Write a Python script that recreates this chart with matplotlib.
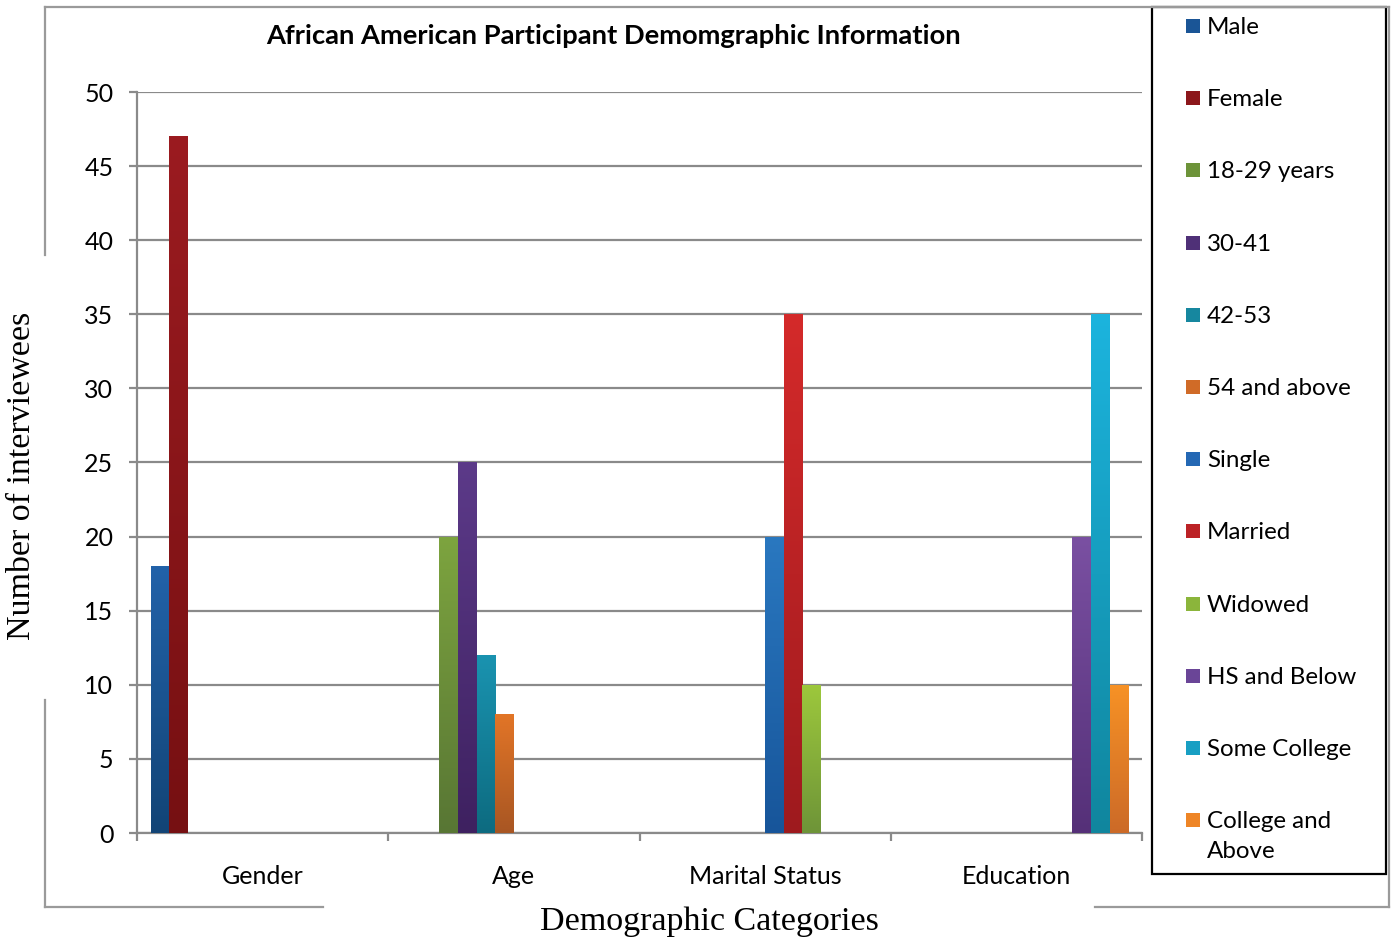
import matplotlib
matplotlib.use('Agg')
import matplotlib.pyplot as plt
from matplotlib.patches import Rectangle
from matplotlib.lines import Line2D
from matplotlib.colors import LinearSegmentedColormap
import numpy as np

# chart data
categories = ['Gender', 'Age', 'Marital Status', 'Education']
series_names = ['Male', 'Female', '18-29 years', '30-41', '42-53', '54 and above',
                'Single', 'Married', 'Widowed', 'HS and Below', 'Some College',
                'College and\nAbove']
# one value per category for each series (0 = not shown)
male = [18, 0, 0, 0]
female = [47, 0, 0, 0]
age_18_29 = [0, 20, 0, 0]
age_30_41 = [0, 25, 0, 0]
age_42_53 = [0, 12, 0, 0]
age_54_up = [0, 8, 0, 0]
single = [0, 0, 20, 0]
married = [0, 0, 35, 0]
widowed = [0, 0, 10, 0]
hs_below = [0, 0, 0, 20]
some_college = [0, 0, 0, 35]
college_above = [0, 0, 0, 10]
series_values = [male, female, age_18_29, age_30_41, age_42_53, age_54_up,
                 single, married, widowed, hs_below, some_college, college_above]
colors = ['#1A5596', '#8C171B', '#6D9339', '#4F3077', '#16879F', '#D06B27',
          '#2468B4', '#BC2226', '#8BB53B', '#6A4597', '#189FC3', '#EE8526']
top_colors = ['#2262A9', '#9B1B20', '#7DA43F', '#5C3A89', '#1A93B0', '#E27527',
              '#2A78C0', '#D42A2A', '#9DC83C', '#7A50A2', '#1CB4DE', '#F79225']
bottom_colors = ['#124476', '#761012', '#587634', '#3E2160', '#0D6B80', '#A85623',
                 '#17559A', '#9E1A1E', '#6E9438', '#553078', '#10869E', '#CC6A28']
y_ticks = [0, 5, 10, 15, 20, 25, 30, 35, 40, 45, 50]

W, H = 1391, 938
fig = plt.figure(figsize=(W / 100, H / 100), dpi=100)
fig.patch.set_facecolor('white')

def fx(px):
    return px / W

def fy(py):
    return 1 - py / H

ax = fig.add_axes([fx(137), fy(833), fx(1142) - fx(137), fy(92) - fy(833)])

grid_col = '#8a8a8a'
n = len(series_names)
width = 0.892 / n
x = np.arange(len(categories))
grad = np.linspace(0, 1, 256).reshape(-1, 1)
for j, vals in enumerate(series_values):
    pos = x + 0.5 + (j - (n - 1) / 2) * width
    bars = ax.bar(pos, vals, width=width, color=colors[j], linewidth=0, zorder=3)
    cmap = LinearSegmentedColormap.from_list('g%d' % j, [bottom_colors[j], top_colors[j]])
    for rect in bars:
        h = rect.get_height()
        if h <= 0:
            continue
        x0 = rect.get_x()
        im = ax.imshow(grad, extent=[x0, x0 + rect.get_width(), 0, h], origin='lower',
                       cmap=cmap, aspect='auto', zorder=3.5, interpolation='bilinear')
        im.set_clip_path(rect)

ax.set_xlim(0, len(categories))
ax.set_ylim(0, 50)
ax.set_aspect('auto')
ax.set_yticks(y_ticks)
ax.yaxis.grid(True, color=grid_col, linewidth=1.6, zorder=0)
ax.set_axisbelow(True)
ax.set_xticks(np.arange(len(categories) + 1))
ax.set_xticklabels([])
ax.set_xticks(x + 0.5, minor=True)
ax.set_xticklabels(categories, minor=True)
ax.tick_params(axis='x', which='major', direction='out', length=6, width=1.6, color=grid_col)
ax.tick_params(axis='x', which='minor', length=0, pad=23, labelsize=18)
ax.tick_params(axis='y', direction='out', length=6, width=1.6, color=grid_col, pad=11, labelsize=18)
for lab in ax.get_xticklabels(minor=True) + ax.get_yticklabels():
    lab.set_fontfamily('Lato')
for s in ['top', 'right']:
    ax.spines[s].set_visible(False)
for s in ['left', 'bottom']:
    ax.spines[s].set_color(grid_col)
    ax.spines[s].set_linewidth(1.6)

fig.text(fx(613), fy(36), 'African American Participant Demomgraphic Information',
         ha='center', va='center', fontsize=19.7, fontweight='bold', family='Lato')
fig.text(fx(22), fy(476), 'Number of interviewees', rotation=90, ha='center', va='center',
         fontsize=24.5, family='Liberation Serif')
fig.text(fx(709), fy(922), 'Demographic Categories', ha='center', va='center',
         fontsize=24.5, family='Liberation Serif')

# outer chart border, broken where the axis titles sit
border = '#9a9a9a'
segs = [((45, 7), (1389, 7)), ((1389, 7), (1389, 907)),
        ((45, 7), (45, 255)), ((45, 700), (45, 907)),
        ((45, 907), (323, 907)), ((1095, 907), (1389, 907))]
for (x0, y0), (x1, y1) in segs:
    fig.add_artist(Line2D([fx(x0), fx(x1)], [fy(y0), fy(y1)], color=border, linewidth=1.6))

# legend box
fig.add_artist(Rectangle((fx(1152), fy(874)), fx(1386) - fx(1152), fy(7) - fy(874),
                         facecolor='white', edgecolor='black', linewidth=1.6))
pitch = 72.2
for j, (name, col) in enumerate(zip(series_names, colors)):
    yc = 26 + j * pitch
    fig.add_artist(Rectangle((fx(1186), fy(yc + 7)), fx(14), 14 / H,
                             facecolor=col, edgecolor='none'))
    fig.text(fx(1207), fy(yc - 9), name, ha='left', va='top', fontsize=17.4,
             family='Lato', linespacing=1.5)

fig.savefig('out.png', dpi=100)
